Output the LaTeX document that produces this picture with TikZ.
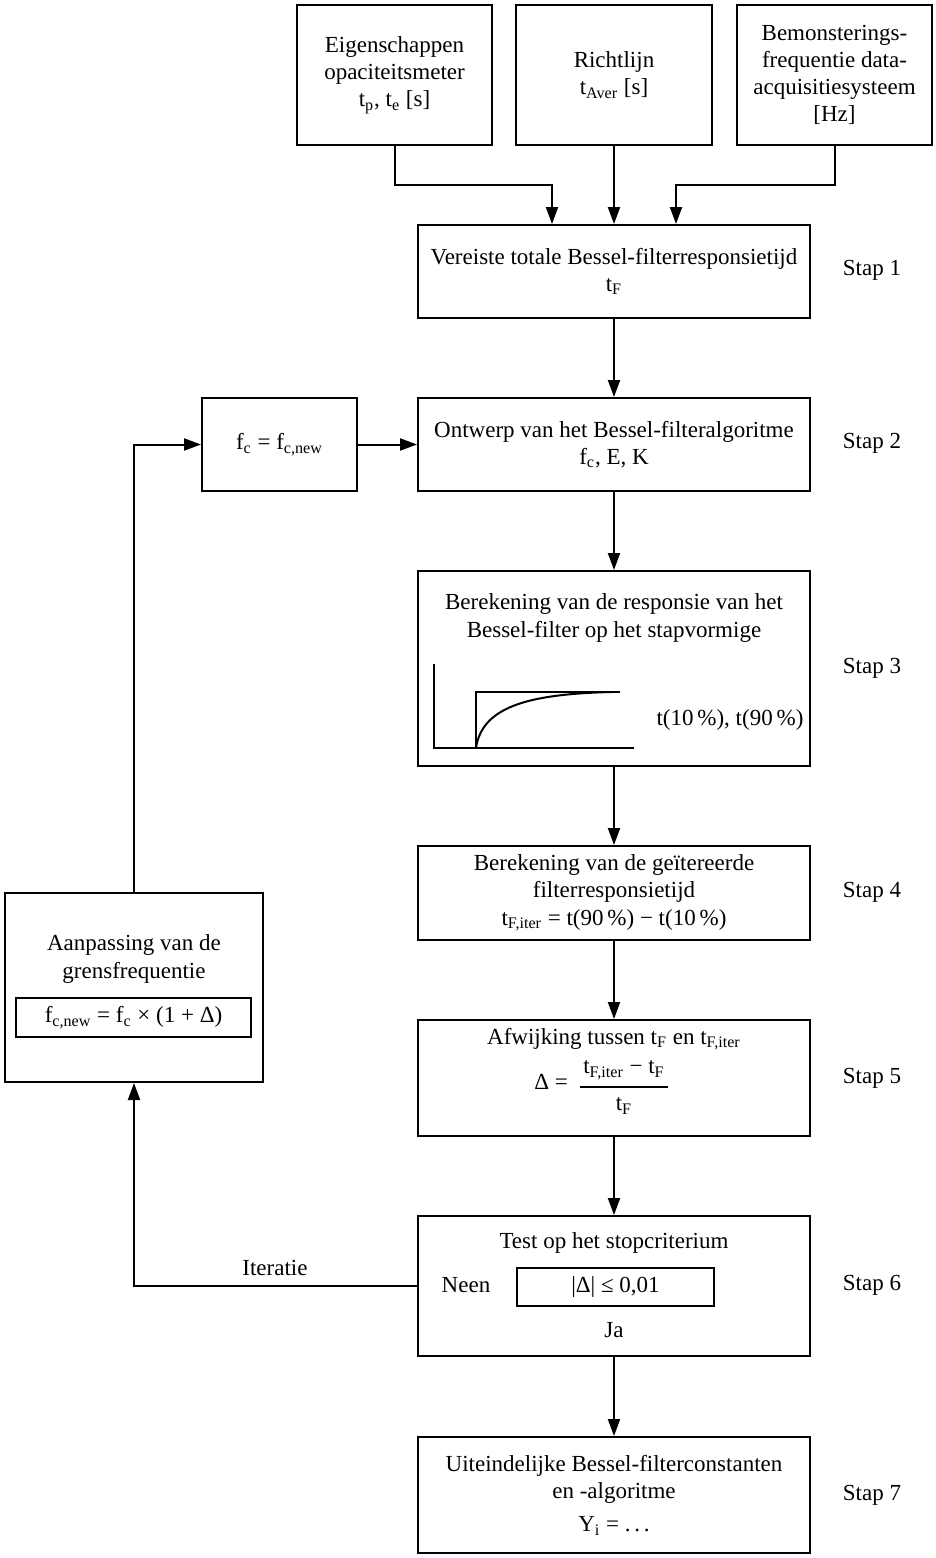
\documentclass[tikz,border=0pt]{standalone}
\usepackage{fontspec}
\setmainfont{Liberation Serif}
\usetikzlibrary{arrows.meta}
\newcommand{\sbs}[1]{\textsubscript{#1}}
\begin{document}
\begin{tikzpicture}[x=0.5pt,y=-0.5pt,
  every node/.style={font=\fontsize{11.5}{13.6}\selectfont},
  box/.style={draw, line width=1pt, inner sep=0pt, align=center},
  lbl/.style={inner sep=0pt, align=center},
  arr/.style={line width=1pt, -{Triangle[length=8.5pt,width=6pt]}},
  ln/.style={line width=1pt}]
\useasboundingbox (0,0) rectangle (936,1558);

% top inputs
\node[box, minimum width=97.5pt, minimum height=70pt] (A) at (394.5,75) {Eigenschappen\\opaciteitsmeter\\t\sbs{p}, t\sbs{e} [s]};
\node[box, minimum width=98pt, minimum height=70pt] (B) at (614,75) {Richtlijn\\t\sbs{Aver} [s]};
\node[box, minimum width=97.5pt, minimum height=70pt] (C) at (834.5,75) {Bemonsterings-\\frequentie data-\\acquisitiesysteem\\{[Hz]}};

% step 1
\node[box, minimum width=196pt, minimum height=46.5pt] (s1) at (614,271.5) {Vereiste totale Bessel-filterresponsietijd\\t\sbs{F}};
\draw[arr] (A.south) -- (394.5,185) -| ([xshift=-31pt]s1.north);
\draw[arr] (B.south) -- (s1.north);
\draw[arr] (C.south) -- (834.5,185) -| ([xshift=31pt]s1.north);

% step 2
\node[box, minimum width=196pt, minimum height=46.5pt] (s2) at (614,444.5) {Ontwerp van het Bessel-filteralgoritme\\f\sbs{c}, E, K};
\node[box, minimum width=77.5pt, minimum height=46.5pt] (fc) at (279.5,444.5) {f\sbs{c} = f\sbs{c,new}};
\draw[arr] (s1.south) -- (s2.north);
\draw[arr] (fc.east) -- (s2.west);

% step 3
\node[box, minimum width=196pt, minimum height=97.5pt] (s3) at (614,668.5) {};
\node[lbl] (s3t) at (614,618) {Berekening van de responsie van het\\Bessel-filter op het stapvormige};
\node[lbl] (s3r) at (730,720) {t(10\,\%), t(90\,\%)};
\draw[ln] (434,664) -- (434,748) -- (634,748);
\draw[ln] (476,748) -- (476,692) -- (620,692);
\draw[ln] (476,748) .. controls (482,708) and (525,694) .. (612,692);
\draw[arr] (s2.south) -- (s3.north);

% step 4
\node[box, minimum width=196pt, minimum height=47pt] (s4) at (614,893) {Berekening van de geïtereerde\\filterresponsietijd\\t\sbs{F,iter} = t(90\,\%) − t(10\,\%)};
\draw[arr] (s3.south) -- (s4.north);

% step 5
\node[box, minimum width=196pt, minimum height=58pt] (s5) at (614,1078) {};
\node[lbl] (s5t) at (614,1039) {Afwijking tussen t\sbs{F} en t\sbs{F,iter}};
\node[lbl] (s5d) at (551,1082) {Δ =};
\node[lbl] (s5n) at (624,1070) {t\sbs{F,iter} − t\sbs{F}};
\node[lbl] (s5b) at (624,1106) {t\sbs{F}};
\draw[line width=0.8pt] (580,1087) -- (668,1087);
\draw[arr] (s4.south) -- (s5.north);

% step 6
\node[box, minimum width=196pt, minimum height=70pt] (s6) at (614,1286) {};
\node[lbl] (s6t) at (614,1243) {Test op het stopcriterium};
\node[lbl] (s6n) at (466,1285) {Neen};
\node[box, minimum width=98.5pt, minimum height=19pt] (c6) at (615.5,1287) {|Δ| ≤ 0,01};
\node[lbl] (s6j) at (614,1330) {Ja};
\draw[arr] (s5.south) -- (s6.north);

% step 7
\node[box, minimum width=196pt, minimum height=58pt] (s7) at (614,1495) {Uiteindelijke Bessel-filterconstanten\\en -algoritme\\[3pt]Y\sbs{i} = .\,.\,.};
\draw[arr] (s6.south) -- (s7.north);

% left adjustment box
\node[box, minimum width=129pt, minimum height=94.5pt] (L) at (134,987.5) {};
\node[lbl] (Lt) at (134,959) {Aanpassing van de\\grensfrequentie};
\node[box, minimum width=117.5pt, minimum height=19.5pt] (Li) at (133.5,1017.5) {f\sbs{c,new} = f\sbs{c} × (1 + Δ)};
\draw[arr] (s6.west) -| (L.south);
\node[lbl] (it) at (275,1268) {Iteratie};
\draw[arr] (L.north) |- (fc.west);

% step labels
\node[lbl] (p1) at (872,270) {Stap 1};
\node[lbl] (p2) at (872,443) {Stap 2};
\node[lbl] (p3) at (872,668) {Stap 3};
\node[lbl] (p4) at (872,892) {Stap 4};
\node[lbl] (p5) at (872,1078) {Stap 5};
\node[lbl] (p6) at (872,1285) {Stap 6};
\node[lbl] (p7) at (872,1495) {Stap 7};
\end{tikzpicture}
\end{document}
